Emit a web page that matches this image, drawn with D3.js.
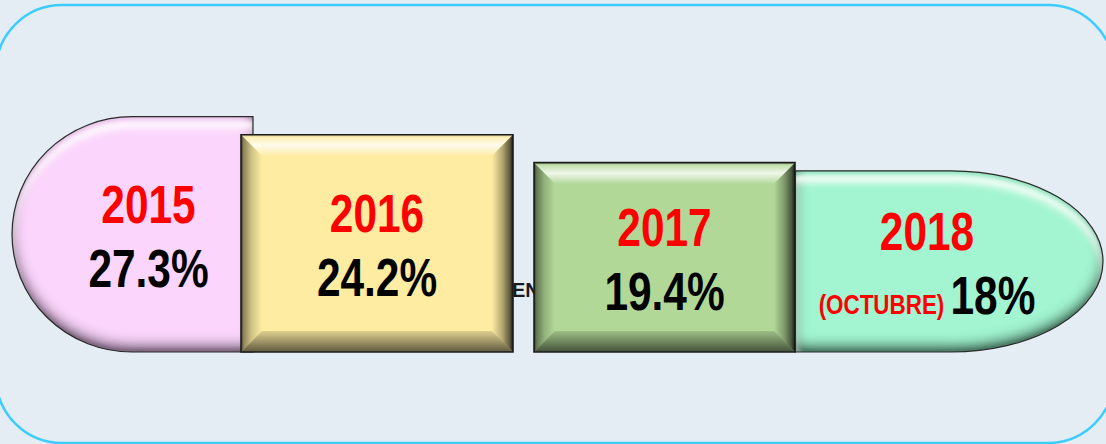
<!DOCTYPE html>
<html><head><meta charset="utf-8">
<script src="https://cdn.jsdelivr.net/npm/d3@7"></script>
<style>
html,body{margin:0;padding:0;background:#e4ecf4;overflow:hidden}
svg{display:block}
</style></head>
<body>
<script>
// ---- data ----
const years = ["2015", "2016", "2017", "2018"];
const values = [27.3, 24.2, 19.4, 18];
const valueLabels = ["27.3%", "24.2%", "19.4%", "18%"];
const notes = ["", "", "", "(OCTUBRE)"];
const hiddenTitle = "EN";

const W = 1106, H = 444;
const svg = d3.select("body").append("svg").attr("width", W).attr("height", H);
const defs = svg.append("defs");

// background + outer rounded frame
svg.append("rect").attr("width", W).attr("height", H).attr("fill", "#e4ecf4");
svg.append("rect").attr("x", -4).attr("y", 5).attr("width", 1118).attr("height", 438)
  .attr("rx", 66).attr("ry", 66).attr("fill", "#e4ecf4")
  .attr("stroke", "#3ccdfd").attr("stroke-width", 2.5);

// scales
const baseY = 352;
const y = d3.scaleLinear().domain([0, 30]).range([baseY - 76.5, baseY - 251]);
const xLeft = d3.scaleOrdinal(years, [12, 241, 534, 795]);
const xRight = d3.scaleOrdinal(years, [253, 513, 795, 1103]);
const kind = d3.scaleOrdinal(years, ["roundLeft", "rect", "rect", "roundRight"]);
const fill = d3.scaleOrdinal(years, ["#fbd5fc", "#fdeca2", "#b2d898", "#a3f5d1"]);
const shade = d3.scaleOrdinal(years, ["#3a2040", "#3a3010", "#1f3010", "#0e3a26"]);

// gradients for angular bevel
function grad(id, x1, y1, x2, y2, stops) {
  const g = defs.append("linearGradient").attr("id", id)
    .attr("x1", x1).attr("y1", y1).attr("x2", x2).attr("y2", y2);
  stops.forEach(s => g.append("stop").attr("offset", s[0]).attr("stop-color", s[1]).attr("stop-opacity", s[2]));
}
grad("bvTop", 0, 0, 0, 1, [[0, "#000", 0.15], [0.12, "#fff", 0.2], [0.5, "#fff", 0.8], [1, "#fff", 0.05]]);
grad("bvLeft", 0, 0, 1, 0, [[0, "#000", 0.75], [0.12, "#000", 0.45], [0.5, "#000", 0.18], [1, "#000", 0.0]]);
grad("bvRight", 0, 0, 1, 0, [[0, "#000", 0.0], [0.5, "#000", 0.3], [0.85, "#000", 0.62], [1, "#000", 0.9]]);
grad("bvBottom", 0, 0, 0, 1, [[0, "#000", 0.12], [0.6, "#000", 0.42], [1, "#000", 0.62]]);

// soft bevel filters for rounded shapes
years.forEach(yr => {
  const f = defs.append("filter").attr("id", "bevelSoft" + yr)
    .attr("filterUnits", "userSpaceOnUse").attr("x", 0).attr("y", 0).attr("width", W).attr("height", H);
  // dark rim (stronger at bottom)
  f.append("feGaussianBlur").attr("in", "SourceAlpha").attr("stdDeviation", 7).attr("result", "blur");
  f.append("feOffset").attr("in", "blur").attr("dx", 0).attr("dy", -6).attr("result", "offDark");
  f.append("feComposite").attr("in", "SourceAlpha").attr("in2", "offDark").attr("operator", "out").attr("result", "rimDark");
  const ct = f.append("feComponentTransfer").attr("in", "rimDark").attr("result", "rimDark2");
  ct.append("feFuncA").attr("type", "linear").attr("slope", 1.4).attr("intercept", 0);
  f.append("feFlood").attr("flood-color", shade(yr)).attr("flood-opacity", 0.8).attr("result", "cDark");
  f.append("feComposite").attr("in", "cDark").attr("in2", "rimDark2").attr("operator", "in").attr("result", "dark");
  // light streak near the top edge
  f.append("feGaussianBlur").attr("in", "SourceAlpha").attr("stdDeviation", 3).attr("result", "blur2");
  f.append("feOffset").attr("in", "blur2").attr("dx", 0).attr("dy", 6).attr("result", "offLight");
  f.append("feComposite").attr("in", "SourceAlpha").attr("in2", "offLight").attr("operator", "out").attr("result", "rimLight");
  f.append("feGaussianBlur").attr("in", "rimLight").attr("stdDeviation", 2).attr("result", "rimLight2");
  f.append("feOffset").attr("in", "rimLight2").attr("dx", 0).attr("dy", 5).attr("result", "rimLight3");
  f.append("feComposite").attr("in", "rimLight3").attr("in2", "SourceAlpha").attr("operator", "in").attr("result", "rimLight4");
  f.append("feFlood").attr("flood-color", "#ffffff").attr("flood-opacity", 0.95).attr("result", "cLight");
  f.append("feComposite").attr("in", "cLight").attr("in2", "rimLight4").attr("operator", "in").attr("result", "light");
  const m = f.append("feMerge");
  m.append("feMergeNode").attr("in", "SourceGraphic");
  m.append("feMergeNode").attr("in", "dark");
  m.append("feMergeNode").attr("in", "light");
});

// partially hidden text behind the shapes
svg.append("text").attr("x", 512).attr("y", 297)
  .attr("font-family", "'Liberation Sans', Arial, sans-serif").attr("font-weight", "bold")
  .attr("font-size", 20).attr("fill", "#1a1a1a").text(hiddenTitle);

const data = years.map((yr, i) => ({ yr, v: values[i], lab: valueLabels[i], note: notes[i] }));
const drawOrder = [0, 1, 3, 2];

function shapePath(d) {
  const x0 = xLeft(d.yr), x1 = xRight(d.yr), y0 = y(d.v), y1 = baseY;
  const h = y1 - y0, ry = h / 2;
  const k = kind(d.yr);
  if (k === "roundLeft") {
    const rx = h * 0.51;
    return `M${x1},${y0} L${x0 + rx},${y0} A${rx},${ry} 0 0 0 ${x0},${y0 + ry} A${rx},${ry} 0 0 0 ${x0 + rx},${y1} L${x1},${y1} Z`;
  }
  if (k === "roundRight") {
    const rx = h * 0.84;
    return `M${x0},${y0} L${x1 - rx},${y0} A${rx},${ry} 0 0 1 ${x1},${y0 + ry} A${rx},${ry} 0 0 1 ${x1 - rx},${y1} L${x0},${y1} Z`;
  }
  return `M${x0},${y0} H${x1} V${y1} H${x0} Z`;
}

const g = svg.append("g");
drawOrder.forEach(i => {
  const d = data[i];
  const k = kind(d.yr);
  const gg = g.append("g");
  const x0 = xLeft(d.yr), x1 = xRight(d.yr), y0 = y(d.v), y1 = baseY;
  if (k === "rect") {
    const b = 21;
    gg.append("path").attr("d", shapePath(d)).attr("fill", fill(d.yr));
    gg.append("polygon").attr("points", `${x0},${y0} ${x1},${y0} ${x1 - b},${y0 + b} ${x0 + b},${y0 + b}`).attr("fill", "url(#bvTop)");
    gg.append("polygon").attr("points", `${x0},${y0} ${x0 + b},${y0 + b} ${x0 + b},${y1 - b} ${x0},${y1}`).attr("fill", "url(#bvLeft)");
    gg.append("polygon").attr("points", `${x1},${y0} ${x1},${y1} ${x1 - b},${y1 - b} ${x1 - b},${y0 + b}`).attr("fill", "url(#bvRight)");
    gg.append("polygon").attr("points", `${x0},${y1} ${x0 + b},${y1 - b} ${x1 - b},${y1 - b} ${x1},${y1}`).attr("fill", "url(#bvBottom)");
    gg.append("path").attr("d", shapePath(d)).attr("fill", "none").attr("stroke", "#1c1c1c").attr("stroke-width", 1.6);
  } else {
    gg.append("path").attr("d", shapePath(d)).attr("fill", fill(d.yr)).attr("filter", `url(#bevelSoft${d.yr})`);
    gg.append("path").attr("d", shapePath(d)).attr("fill", "none").attr("stroke", "#2a2a2a").attr("stroke-width", 1.2);
  }
});

// labels (condensed bold, like Arial Narrow)
const font = "'Liberation Sans', Arial, sans-serif";
const squeeze = 0.8;
data.forEach(d => {
  const k = kind(d.yr);
  const x0 = xLeft(d.yr), x1 = xRight(d.yr), y0 = y(d.v);
  const cy = (y0 + baseY) / 2;
  let cx = (x0 + x1) / 2;
  if (k === "roundLeft") cx += 16;
  if (k === "roundRight") cx -= 22;
  svg.append("text").attr("transform", `translate(${cx},${cy - 11}) scale(${squeeze},1)`)
    .attr("text-anchor", "middle")
    .attr("font-family", font).attr("font-weight", "bold").attr("font-size", 53)
    .attr("fill", "#ff0000").text(d.yr);
  const t = svg.append("text").attr("transform", `translate(${cx},${cy + 53}) scale(${squeeze},1)`)
    .attr("text-anchor", "middle")
    .attr("font-family", font).attr("font-weight", "bold").attr("font-size", 53).attr("fill", "#000");
  if (d.note) {
    t.append("tspan").attr("fill", "#ff0000").attr("font-size", 28).text(d.note + " ");
  }
  t.append("tspan").text(d.lab);
});
</script>
</body></html>
